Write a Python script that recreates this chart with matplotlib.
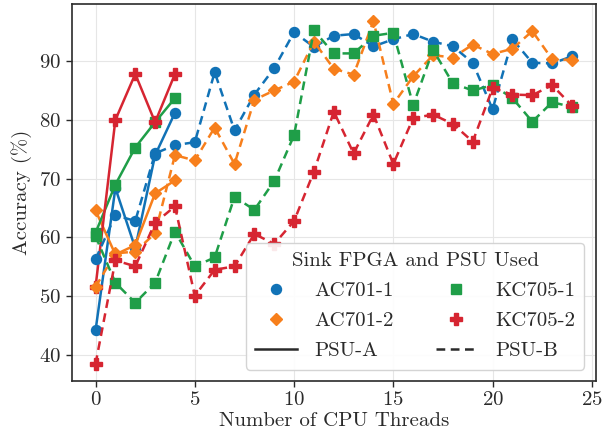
import matplotlib
matplotlib.use('Agg')
import matplotlib.pyplot as plt
from matplotlib.lines import Line2D

plt.rcParams['font.family'] = 'serif'
plt.rcParams['font.serif'] = ['cmr10', 'DejaVu Serif']
plt.rcParams['mathtext.fontset'] = 'cm'
plt.rcParams['axes.formatter.use_mathtext'] = True

threads_a = [0, 1, 2, 3, 4]
threads_b = list(range(25))

ac701_1_a = [44.2, 68.4, 58.2, 74.0, 81.2]
ac701_1_b = [56.3, 63.8, 62.8, 74.3, 75.7, 76.2, 88.1, 78.2, 84.3, 88.8, 94.9, 92.4, 94.3,
             94.6, 92.5, 93.7, 94.6, 93.3, 92.5, 89.7, 81.8, 93.7, 89.7, 89.6, 90.8]
ac701_2_a = [64.6, 57.1, 58.7, 67.5, 69.7]
ac701_2_b = [51.6, 57.3, 57.6, 60.7, 74.0, 73.1, 78.7, 72.5, 83.4, 85.0, 86.5, 93.3, 88.7,
             87.7, 96.8, 82.7, 87.4, 91.0, 90.6, 92.8, 91.2, 92.1, 95.1, 90.3, 90.2]
kc705_1_a = [60.8, 69.0, 75.3, 79.6, 83.7]
kc705_1_b = [60.2, 52.3, 48.9, 52.3, 61.0, 55.1, 56.6, 66.9, 64.7, 69.6, 77.4, 95.2, 91.3,
             91.3, 94.3, 94.8, 82.5, 91.9, 86.2, 85.0, 85.9, 83.7, 79.7, 83.0, 82.2]
kc705_2_a = [51.6, 80.0, 87.8, 79.6, 87.8]
kc705_2_b = [38.5, 56.1, 55.1, 62.5, 65.3, 50.1, 54.5, 55.1, 60.6, 58.9, 62.8, 71.2, 81.4,
             74.3, 80.9, 72.5, 80.3, 80.9, 79.3, 76.3, 85.4, 84.3, 84.2, 85.9, 82.4]

names = ['AC701-1', 'AC701-2', 'KC705-1', 'KC705-2']
colors = ['#1172b6', '#f77f1c', '#1f9e48', '#d62531']
markers = ['o', 'D', 's', 'P']
msizes = [7.2, 6.6, 6.6, 8]
series_a = [ac701_1_a, ac701_2_a, kc705_1_a, kc705_2_a]
series_b = [ac701_1_b, ac701_2_b, kc705_1_b, kc705_2_b]
dash = (0, (3.5, 2.2))

fig = plt.figure(figsize=(6.13, 4.36), dpi=100)
ax = fig.add_axes([0.117, 0.126, 0.855, 0.865])

for ys, c, m, ms in zip(series_a, colors, markers, msizes):
    ax.plot(threads_a, ys, color=c, marker=m, ms=ms, lw=1.8, ls='-')
for ys, c, m, ms in zip(series_b, colors, markers, msizes):
    ax.plot(threads_b, ys, color=c, marker=m, ms=ms, lw=1.8, ls=dash)

ax.set_xticks([0, 5, 10, 15, 20, 25])
ax.set_yticks([40, 50, 60, 70, 80, 90])
ax.grid(True, color='#e6e6e6', lw=0.8)
ax.set_axisbelow(True)
for s in ax.spines.values():
    s.set_color('#2a2a2a')
    s.set_linewidth(1.2)
ax.tick_params(axis='both', labelsize=15, length=4, width=1, color='#2a2a2a', colors='#2a2a2a')
ax.set_xlabel('Number of CPU Threads', fontsize=15, color='#2a2a2a', labelpad=2)
ax.set_ylabel('Accuracy (%)', fontsize=15, color='#2a2a2a', labelpad=5)

handles = [Line2D([], [], color=colors[0], marker='o', ls='none', ms=7.2),
           Line2D([], [], color=colors[1], marker='D', ls='none', ms=6.6),
           Line2D([], [], color='#2a2a2a', ls='-', lw=1.8),
           Line2D([], [], color=colors[2], marker='s', ls='none', ms=6.6),
           Line2D([], [], color=colors[3], marker='P', ls='none', ms=8),
           Line2D([], [], color='#2a2a2a', ls=dash, lw=1.8)]
labels = ['AC701-1', 'AC701-2', 'PSU-A', 'KC705-1', 'KC705-2', 'PSU-B']
leg = ax.legend(handles, labels, ncol=2, loc='lower right', title='Sink FPGA and PSU Used',
                fontsize=15, title_fontsize=15, frameon=True, fancybox=True,
                handlelength=2.0, columnspacing=2.0, labelspacing=0.55, borderpad=0.45,
                handletextpad=0.85, borderaxespad=0.55)
leg.get_frame().set_edgecolor('#d0d0d0')
leg.get_frame().set_alpha(0.9)
for t in leg.get_texts():
    t.set_color('#2a2a2a')
leg.get_title().set_color('#2a2a2a')

fig.savefig('out.png', dpi=100)
